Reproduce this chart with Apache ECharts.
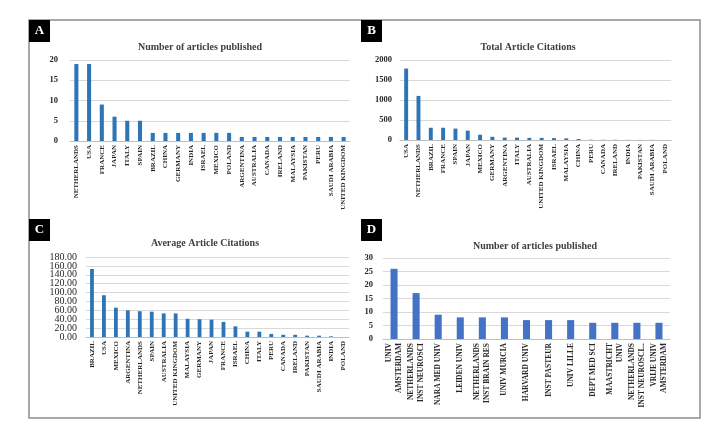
<!DOCTYPE html>
<html>
<head>
<meta charset="utf-8">
<script src="https://cdn.jsdelivr.net/npm/echarts@6/dist/echarts.min.js"></script>
<style>
  html, body { margin: 0; padding: 0; background: #fff; }
  #chart { width: 724px; height: 426px; }
</style>
</head>
<body>
<div id="chart"></div>
<script>
// panel A - number of articles by country
const countriesA = ['NETHERLANDS', 'USA', 'FRANCE', 'JAPAN', 'ITALY', 'SPAIN', 'BRAZIL', 'CHINA', 'GERMANY', 'INDIA', 'ISRAEL',
    'MEXICO', 'POLAND', 'ARGENTINA', 'AUSTRALIA', 'CANADA', 'IRELAND', 'MALAYSIA', 'PAKISTAN', 'PERU', 'SAUDI ARABIA', 'UNITED KINGDOM'];
const articlesA = [19, 19, 9, 6, 5, 5, 2, 2, 2, 2, 2, 2, 2, 1, 1, 1, 1, 1, 1, 1, 1, 1];

// panel B - total citations by country
const countriesB = ['USA', 'NETHERLANDS', 'BRAZIL', 'FRANCE', 'SPAIN', 'JAPAN', 'MEXICO', 'GERMANY', 'ARGENTINA', 'ITALY', 'AUSTRALIA',
    'UNITED KINGDOM', 'ISRAEL', 'MALAYSIA', 'CHINA', 'PERU', 'CANADA', 'IRELAND', 'INDIA', 'PAKISTAN', 'SAUDI ARABIA', 'POLAND'];
const citationsB = [1786, 1102, 306, 306, 285, 234, 132, 80, 60, 60, 53, 53, 48, 41, 24, 7, 5, 5, 3, 3, 3, 0];

// panel C - average citations by country
const countriesC = ['BRAZIL', 'USA', 'MEXICO', 'ARGENTINA', 'NETHERLANDS', 'SPAIN', 'AUSTRALIA', 'UNITED KINGDOM', 'MALAYSIA', 'GERMANY',
    'JAPAN', 'FRANCE', 'ISRAEL', 'CHINA', 'ITALY', 'PERU', 'CANADA', 'IRELAND', 'PAKISTAN', 'SAUDI ARABIA', 'INDIA', 'POLAND'];
const averageC = [153, 94, 66, 60, 58, 57, 53, 53, 41, 40, 39, 34, 24, 12, 12, 7, 5, 5, 3, 3, 1.5, 0];
// C tick labels, split in two sets so the tight rows don't get dropped as overlapping
const ticksC1 = [0, 40, 80, 120, 160];
const ticksC2 = [20, 60, 100, 140, 180];

// panel D - number of articles by institution
const institutionsD = ['UNIV\nAMSTERDAM', 'NETHERLANDS\nINST NEUROSCI', 'NARA MED UNIV', 'LEIDEN UNIV', 'NETHERLANDS\nINST BRAIN RES',
    'UNIV MURCIA', 'HARVARD UNIV', 'INST PASTEUR', 'UNIV LILLE', 'DEPT MED SCI', 'MAASTRICHT\nUNIV', 'NETHERLANDS\nINST NEUROSCI...',
    'VRIJE UNIV\nAMSTERDAM'];
const articlesD = [26, 17, 9, 8, 8, 8, 7, 7, 7, 6, 6, 6, 6];

const titles = ['Number of articles published', 'Total Article Citations', 'Average Article Citations', 'Number of articles published'];
const panelLetters = ['A', 'B', 'C', 'D'];

const serif = '"Liberation Serif", "DejaVu Serif", serif';

const grids = [
    {left: 70, right: 374, top: 60, bottom: 285},
    {left: 400, right: 53, top: 60, bottom: 286},
    {left: 86, right: 375, top: 257, bottom: 89},
    {left: 383, right: 54, top: 258, bottom: 87}
];
const titlePos = [[195, 37], [523, 37], [200, 233], [530, 236]];
const letterPos = [[29, 20], [361, 20], [29, 219], [361, 219]];
const yConf = [
    {max: 20, interval: 5, size: 8.5, weight: 'bold', margin: 12},
    {max: 2000, interval: 500, size: 8.5, weight: 'bold', margin: 8},
    {max: 180, interval: 20, size: 10, weight: 'normal', margin: 9, custom: ticksC1, fmt: v => v.toFixed(2)},
    {max: 30, interval: 5, size: 8.5, weight: 'bold', margin: 10}
];
const cats = [countriesA, countriesB, countriesC, institutionsD];
const vals = [articlesA, citationsB, averageC, articlesD];
const colors = ['#2e75b6', '#2e75b6', '#2e75b6', '#4472c4'];

const xAxes = [], yAxes = [], series = [], titleList = [], graphics = [];

graphics.push({
    type: 'rect',
    shape: {x: 29, y: 20, width: 671, height: 398},
    style: {fill: 'none', stroke: '#8c8c8c', lineWidth: 1.5}
});

echarts.util.each(cats, function (c, i) {
    titleList.push({
        text: titles[i],
        left: titlePos[i][0],
        top: titlePos[i][1],
        textAlign: 'center',
        textStyle: {fontFamily: serif, fontSize: 10, fontWeight: 'bold', color: '#404040'}
    });
    xAxes.push({
        type: 'category',
        gridIndex: i,
        data: c,
        axisTick: {show: false},
        axisLine: {lineStyle: {color: '#bfbfbf'}},
        axisLabel: {
            interval: 0,
            rotate: 90,
            margin: 4,
            fontFamily: serif,
            fontSize: i === 3 ? 7.5 : 7,
            fontWeight: 'bold',
            lineHeight: 10,
            color: '#262626'
        }
    });
    yAxes.push({
        type: 'value',
        gridIndex: i,
        min: 0,
        max: yConf[i].max,
        interval: yConf[i].interval,
        axisLine: {show: false},
        axisTick: {show: false},
        splitLine: {lineStyle: {color: '#d9d9d9'}},
        axisLabel: {
            margin: yConf[i].margin,
            fontFamily: serif,
            fontSize: yConf[i].size,
            fontWeight: yConf[i].weight,
            color: '#262626',
            customValues: yConf[i].custom,
            formatter: yConf[i].fmt || (v => String(v))
        }
    });
    series.push({
        type: 'bar',
        xAxisIndex: i,
        yAxisIndex: i,
        data: vals[i],
        barWidth: '32%',
        itemStyle: {color: colors[i]}
    });
    graphics.push({
        type: 'rect',
        shape: {x: letterPos[i][0], y: letterPos[i][1], width: 21, height: 22},
        style: {fill: '#000'}
    });
    graphics.push({
        type: 'text',
        x: letterPos[i][0] + 10.5,
        y: letterPos[i][1] + 11,
        style: {
            text: panelLetters[i],
            fill: '#fff',
            font: 'bold 13px ' + serif,
            textAlign: 'center',
            textVerticalAlign: 'middle'
        }
    });
});

// second label set for panel C, same scale, same side
yAxes.push({
    type: 'value',
    gridIndex: 2,
    position: 'left',
    min: 0,
    max: 180,
    interval: 20,
    axisLine: {show: false},
    axisTick: {show: false},
    splitLine: {show: false},
    axisLabel: {
        margin: 9,
        fontFamily: serif,
        fontSize: 10,
        color: '#262626',
        customValues: ticksC2,
        formatter: v => v.toFixed(2)
    }
});

const chart = echarts.init(document.getElementById('chart'));
chart.setOption({
    animation: false,
    title: titleList,
    grid: grids,
    xAxis: xAxes,
    yAxis: yAxes,
    series: series,
    graphic: graphics
});
</script>
</body>
</html>
